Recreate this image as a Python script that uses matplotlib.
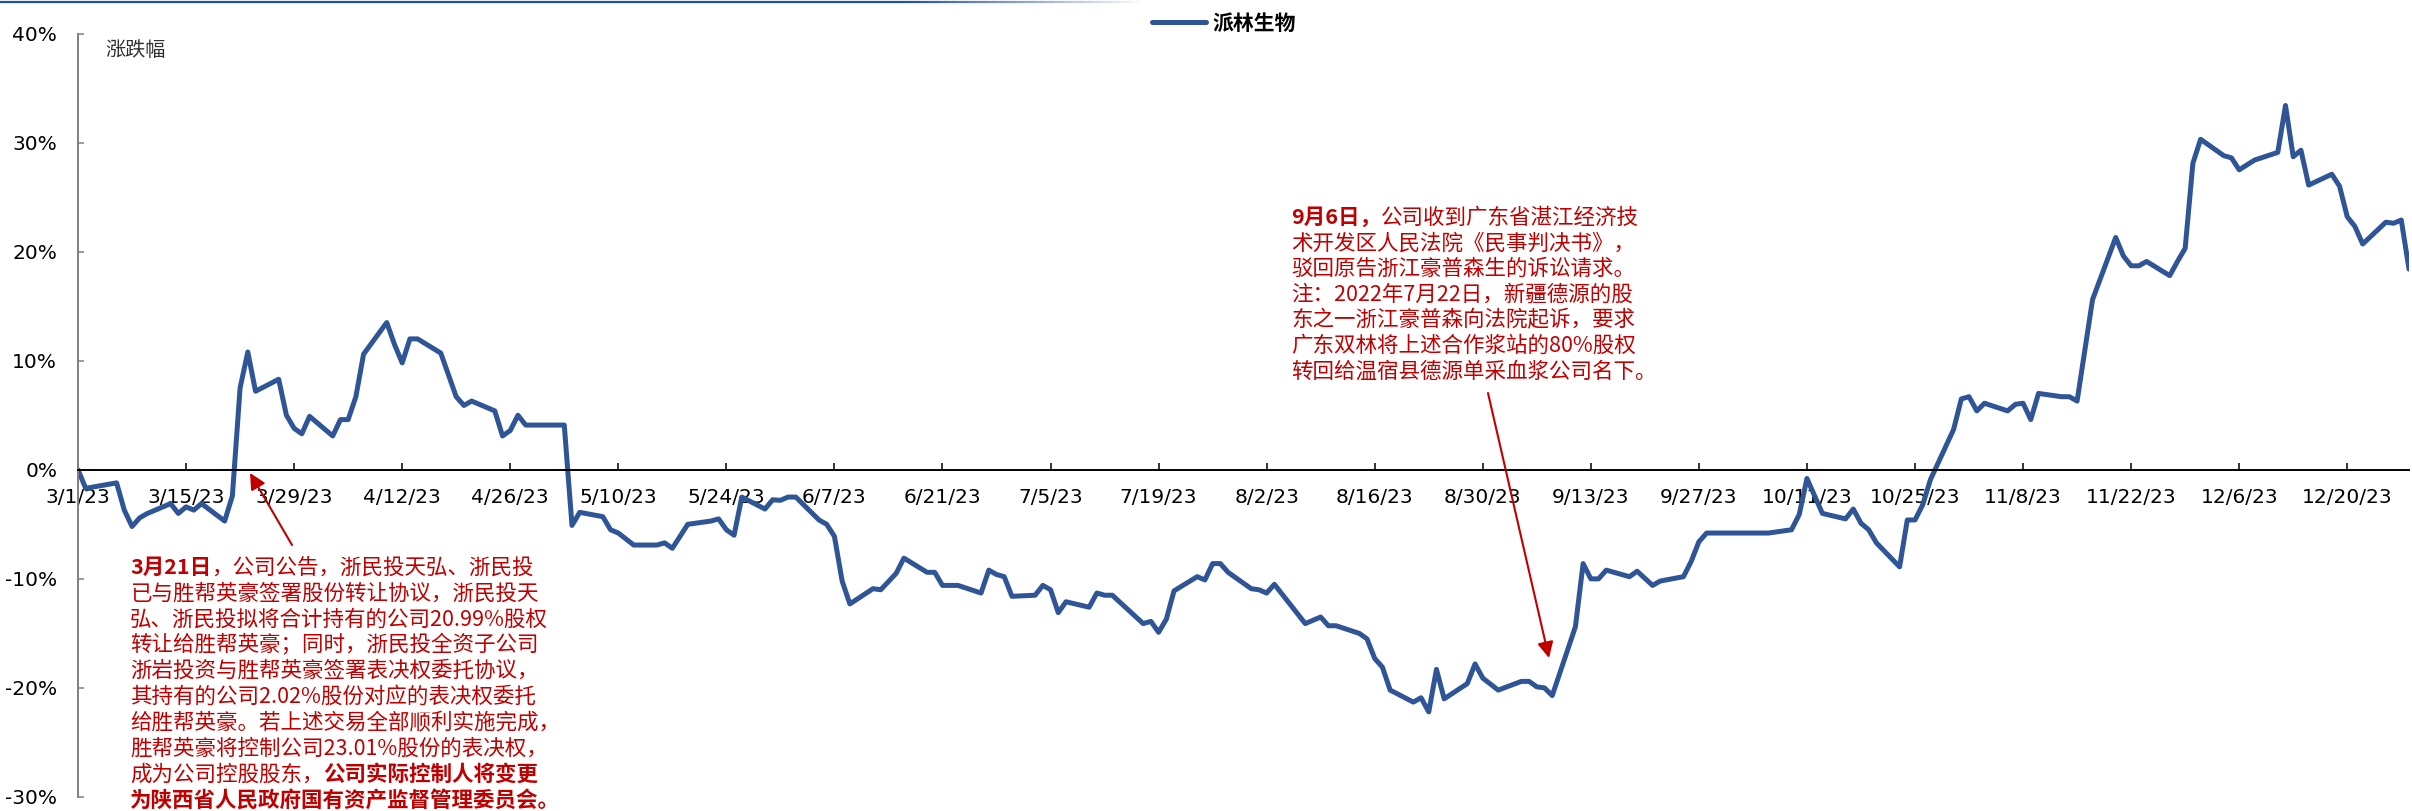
import matplotlib
matplotlib.use('Agg')
import matplotlib.pyplot as plt
from matplotlib.collections import LineCollection
from matplotlib.font_manager import FontProperties
import numpy as np
import pandas as pd

plt.rcParams['font.family'] = ['DejaVu Sans', 'Noto Sans CJK SC']
CJK = ['Noto Sans CJK SC', 'DejaVu Sans']

# 派林生物 2023 cumulative change (%) (m/d of 2023)
dates = ['3/1', '3/2', '3/6', '3/7', '3/8', '3/9', '3/10', '3/13', '3/14', '3/15', '3/16', '3/17',
         '3/20', '3/21', '3/22', '3/23', '3/24', '3/27', '3/28', '3/29', '3/30', '3/31',
         '4/3', '4/4', '4/5', '4/6', '4/7', '4/10', '4/11', '4/12', '4/13', '4/14', '4/17', '4/18',
         '4/19', '4/20', '4/21', '4/24', '4/25', '4/26', '4/27', '4/28',
         '5/3', '5/4', '5/5', '5/8', '5/9', '5/10', '5/12', '5/15', '5/16', '5/17', '5/19', '5/22',
         '5/23', '5/24', '5/25', '5/26', '5/29', '5/30', '5/31',
         '6/1', '6/2', '6/5', '6/6', '6/7', '6/8', '6/9', '6/12', '6/13', '6/15', '6/16', '6/19',
         '6/20', '6/21', '6/23', '6/26', '6/27', '6/28', '6/29', '6/30',
         '7/3', '7/4', '7/5', '7/6', '7/7', '7/10', '7/11', '7/12', '7/13', '7/17', '7/18', '7/19',
         '7/20', '7/21', '7/24', '7/25', '7/26', '7/27', '7/28', '7/31',
         '8/1', '8/2', '8/3', '8/7', '8/9', '8/10', '8/11', '8/14', '8/15', '8/16', '8/17', '8/18',
         '8/21', '8/22', '8/23', '8/24', '8/25', '8/28', '8/29', '8/30', '9/1',
         '9/4', '9/5', '9/6', '9/7', '9/8', '9/11', '9/12', '9/13', '9/14', '9/15', '9/18', '9/19',
         '9/21', '9/22', '9/25', '9/26', '9/27', '9/28',
         '10/6', '10/9', '10/10', '10/11', '10/13', '10/16', '10/17', '10/18', '10/19', '10/20',
         '10/23', '10/24', '10/25', '10/26', '10/27', '10/30', '10/31',
         '11/1', '11/2', '11/3', '11/6', '11/7', '11/8', '11/9', '11/10', '11/13', '11/14', '11/15',
         '11/17', '11/20', '11/21', '11/22', '11/23', '11/24', '11/27', '11/28', '11/29', '11/30',
         '12/1', '12/4', '12/5', '12/6', '12/8', '12/11', '12/12', '12/13', '12/14', '12/15',
         '12/18', '12/19', '12/20', '12/21', '12/22', '12/25', '12/26', '12/27', '12/28']
chg = [0.0, -1.7, -1.2, -3.7, -5.2, -4.4, -4.0, -3.1, -4.0, -3.4, -3.7, -3.1,
       -4.7, -2.4, 7.5, 10.8, 7.2, 8.3, 5.0, 3.8, 3.3, 4.9,
       3.1, 4.6, 4.6, 6.7, 10.6, 13.5, 11.5, 9.8, 12.0, 12.0, 10.7, 8.7,
       6.7, 5.9, 6.3, 5.4, 3.1, 3.6, 5.0, 4.1,
       4.1, -5.1, -3.9, -4.3, -5.5, -5.8, -6.9, -6.9, -6.7, -7.2, -5.0, -4.7,
       -4.5, -5.5, -6.0, -2.5, -3.6, -2.75, -2.8,
       -2.5, -2.5, -4.6, -5.0, -6.1, -10.2, -12.3, -10.9, -11.0, -9.5, -8.1, -9.4,
       -9.4, -10.6, -10.6, -11.3, -9.2, -9.6, -9.8, -11.6,
       -11.5, -10.6, -11.0, -13.1, -12.1, -12.6, -11.3, -11.5, -11.5, -14.1, -13.9, -14.9,
       -13.7, -11.1, -9.8, -10.1, -8.6, -8.6, -9.4, -10.9,
       -11.0, -11.3, -10.5, -14.1, -13.5, -14.3, -14.3, -15.0, -15.5, -17.3, -18.1, -20.2,
       -21.3, -20.9, -22.2, -18.3, -21.0, -19.6, -17.8, -19.1, -20.2,
       -19.4, -19.4, -19.9, -20.0, -20.7, -14.4, -8.6, -10.0, -10.0, -9.2, -9.8, -9.3,
       -10.6, -10.2, -9.8, -8.4, -6.6, -5.8,
       -5.8, -5.5, -4.1, -0.8, -4.0, -4.5, -3.6, -4.9, -5.5, -6.7,
       -8.9, -4.6, -4.6, -3.2, -0.9, 3.7, 6.5,
       6.7, 5.4, 6.1, 5.4, 6.0, 6.1, 4.6, 7.0, 6.7, 6.7, 6.3,
       15.6, 21.3, 19.6, 18.7, 18.7, 19.1, 17.8, 19.1, 20.3, 28.1,
       30.3, 28.8, 28.6, 27.5, 28.4, 29.1, 33.4, 28.7, 29.3, 26.1,
       27.1, 26.0, 23.2, 22.3, 20.7, 22.7, 22.6, 22.9, 18.4]

y_ticks = [-30, -20, -10, 0, 10, 20, 30, 40]
x_ticks = ['3/1', '3/15', '3/29', '4/12', '4/26', '5/10', '5/24', '6/7', '6/21', '7/5', '7/19',
           '8/2', '8/16', '8/30', '9/13', '9/27', '10/11', '10/25', '11/8', '11/22', '12/6', '12/20']

note_left = [
    [('3月21日', True), ('，公司公告，浙民投天弘、浙民投', False)],
    [('已与胜帮英豪签署股份转让协议，浙民投天', False)],
    [('弘、浙民投拟将合计持有的公司20.99%股权', False)],
    [('转让给胜帮英豪；同时，浙民投全资子公司', False)],
    [('浙岩投资与胜帮英豪签署表决权委托协议，', False)],
    [('其持有的公司2.02%股份对应的表决权委托', False)],
    [('给胜帮英豪。若上述交易全部顺利实施完成，', False)],
    [('胜帮英豪将控制公司23.01%股份的表决权，', False)],
    [('成为公司控股股东，', False), ('公司实际控制人将变更', True)],
    [('为陕西省人民政府国有资产监督管理委员会。', True)],
]
note_right = [
    [('9月6日，', True), ('公司收到广东省湛江经济技', False)],
    [('术开发区人民法院《民事判决书》，', False)],
    [('驳回原告浙江豪普森生的诉讼请求。', False)],
    [('注：2022年7月22日，新疆德源的股', False)],
    [('东之一浙江豪普森向法院起诉，要求', False)],
    [('广东双林将上述合作浆站的80%股权', False)],
    [('转回给温宿县德源单采血浆公司名下。', False)],
]


def to_dt(md):
    m, d = md.split('/')
    return pd.Timestamp(2023, int(m), int(d))


W, H = 2412, 811
fig = plt.figure(figsize=(W / 100, H / 100), dpi=100)
ax = fig.add_axes([78 / W, 1 - 797 / H, (2409 - 78) / W, (797 - 33.5) / H])

line, = ax.plot([to_dt(d) for d in dates], chg, color='#2F5597', lw=3.6,
                solid_joinstyle='round', solid_capstyle='round')

ax.set_ylim(-30, 40)
ax.set_yticks(y_ticks)
ax.set_yticklabels([f'{v}%' for v in y_ticks])
ax.set_xlim(to_dt('3/1'), to_dt('12/28'))
ax.set_xticks([to_dt(d) for d in x_ticks])
ax.set_xticklabels([f'{d}/23' for d in x_ticks])

for s in ['top', 'right']:
    ax.spines[s].set_visible(False)
ax.spines['bottom'].set_position(('data', 0))
ax.spines['bottom'].set_color('black')
ax.spines['bottom'].set_linewidth(1.4)
ax.spines['left'].set_color('#808080')
ax.spines['left'].set_linewidth(1.4)
ax.tick_params(axis='x', direction='in', length=5, width=1.1, color='black',
               labelsize=14.5, pad=13)
ax.tick_params(axis='y', direction='in', length=4.5, width=1.1, color='#808080',
               labelcolor='black', labelsize=14.5, pad=15)
ax.patch.set_alpha(0)

fig.text(105 / W, 1 - 50 / H, '涨跌幅', family=CJK, fontsize=14.5, color='#333333', va='center')

ax.legend([line], ['派林生物'], loc='center', bbox_to_anchor=(1224 / W, 1 - 23 / H),
          bbox_transform=fig.transFigure, frameon=False, borderpad=0,
          prop=FontProperties(family=CJK, weight='bold', size=15),
          handlelength=2.6, handletextpad=0.3)

# thin gradient rule at the top of the page
xs = np.linspace(0, 1140, 120)
segs = [[(xs[i] / W, 1 - 2 / H), (xs[i + 1] / W, 1 - 2 / H)] for i in range(len(xs) - 1)]
alphas = np.clip((1140 - xs[:-1]) / 240, 0, 1)
cols = [(0.12, 0.31, 0.62, a) for a in alphas]
fig.add_artist(LineCollection(segs, colors=cols, linewidths=1.6, transform=fig.transFigure))

red = '#C00000'
renderer = fig.canvas.get_renderer()


def note_block(lines, x0, y0, step):
    for i, parts in enumerate(lines):
        x = x0
        yb = 1 - (y0 + step * i + 7.5) / H
        for txt, bold in parts:
            t = fig.text(x / W, yb, txt, family=CJK, fontsize=15.5, color=red,
                         weight='bold' if bold else 'normal', va='baseline', ha='left')
            x = t.get_window_extent(renderer).x1


note_block(note_left, 130, 566, 25.9)
note_block(note_right, 1291, 216, 25.7)

arrow = dict(arrowstyle='-|>', color=red, lw=1.5, mutation_scale=24, shrinkA=0, shrinkB=0)
ax.annotate('', xy=(250, H - 473), xytext=(292, H - 545), xycoords='figure pixels',
            textcoords='figure pixels', arrowprops=arrow)
ax.annotate('', xy=(1549, H - 658), xytext=(1488, H - 393), xycoords='figure pixels',
            textcoords='figure pixels', arrowprops=arrow)

fig.savefig('out.png', dpi=100)
